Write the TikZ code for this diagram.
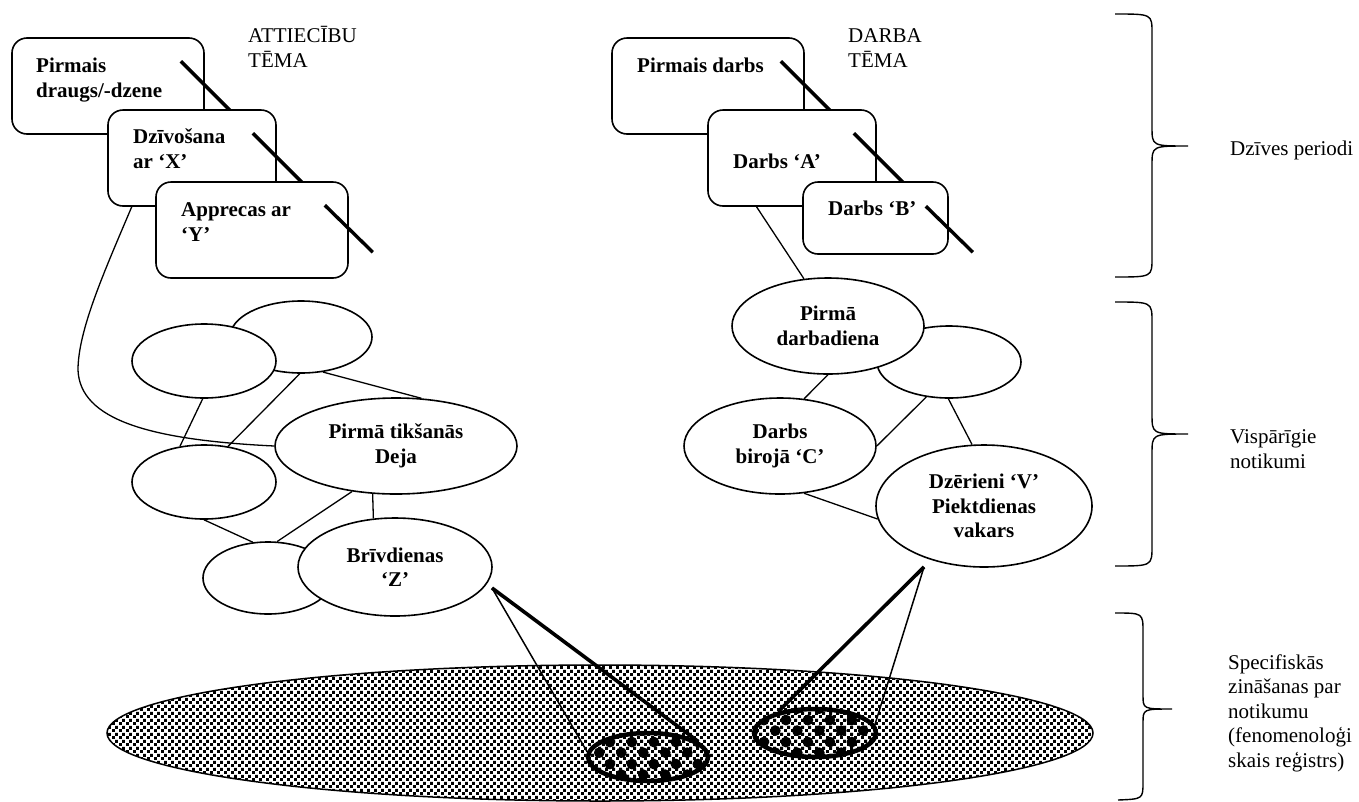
\documentclass[tikz,border=0pt]{standalone}
\usepackage{fontspec}
\setmainfont{Liberation Serif}
\usetikzlibrary{shapes.geometric,calc,patterns}
\pgfdeclarepatternformonly{ldots}{\pgfqpoint{0pt}{0pt}}{\pgfqpoint{7pt}{7pt}}{\pgfqpoint{7pt}{7pt}}{%
  \pgfpathrectangle{\pgfqpoint{0.15pt}{0.15pt}}{\pgfqpoint{3.2pt}{3.2pt}}%
  \pgfpathrectangle{\pgfqpoint{3.65pt}{3.65pt}}{\pgfqpoint{3.2pt}{3.2pt}}%
  \pgfusepath{fill}}
\pgfdeclarepatternformonly{spheres}{\pgfqpoint{0pt}{0pt}}{\pgfqpoint{22pt}{22pt}}{\pgfqpoint{22pt}{22pt}}{%
  \pgfpathcircle{\pgfqpoint{5.5pt}{5.5pt}}{5.6pt}%
  \pgfpathcircle{\pgfqpoint{16.5pt}{16.5pt}}{5.6pt}%
  \pgfusepath{fill}}
\tikzset{
  basefont/.style={font=\fontsize{21}{24.5}\selectfont},
  boldfont/.style={font=\fontsize{21}{24.5}\selectfont\bfseries},
  box/.style 2 args={draw, line width=1.6pt, rounded corners=15pt, fill=white,
    minimum width=#1pt, minimum height=#2pt, inner sep=0pt},
  ell/.style 2 args={draw, ellipse, line width=1.6pt, fill=white, inner sep=0pt,
    minimum width=#1pt, minimum height=#2pt, align=center, boldfont},
  slash/.style={line width=3.4pt},
  link/.style={line width=1.3pt},
  thickray/.style={line width=3.6pt},
  thinray/.style={line width=1.5pt},
  lbl/.style={anchor=base west, align=left, inner sep=0pt, basefont},
  blbl/.style={anchor=base west, align=left, inner sep=0pt, boldfont},
  brace/.style={line width=1.4pt},
  bigell/.style={draw, ellipse, line width=1.5pt, pattern=ldots, inner sep=0pt},
  smallell/.style 2 args={draw, ellipse, line width=4.5pt, inner sep=0pt,
    preaction={pattern=ldots}, pattern=spheres, minimum width=#1pt, minimum height=#2pt}
}
\begin{document}
\begin{tikzpicture}[x=1pt,y=1pt]
\useasboundingbox (0,0) rectangle (1359,-801);

% big ellipse (specific knowledge)
\node[bigell, minimum width=986pt, minimum height=136pt] (BE) at (600,-733) {};

% ---- left theme: boxes (multi-line labels are placed by their last baseline)
\node[box={192}{96}] (B1) at (108,-86) {};
\draw[slash] ($(B1.north east)+(-24,-24)$) -- ++(49,-49);
\node[box={168}{96}] (B2) at (192,-158) {};
\draw[slash] ($(B2.north east)+(-24,-24)$) -- ++(49,-49);
\node[box={192}{96}] (B3) at (252,-230) {};
\draw[slash] ($(B3.north east)+(-24,-24)$) -- ++(48,-47);
\node[blbl] (tB1) at (36,-97) {Pirmais\\draugs/-dzene};
\node[blbl] (tB2) at (133,-168) {Dzīvošana\\ar ‘X’};
\node[blbl] (tB3) at (181,-241) {Apprecas ar\\‘Y’};
\node[lbl] (h1) at (248,-67) {ATTIECĪBU\\TĒMA};

% ---- right theme: boxes
\node[box={192}{96}] (R1) at (708,-86) {};
\draw[slash] ($(R1.north east)+(-24,-24)$) -- ++(49,-49);
\node[box={168}{96}] (R2) at (792,-158) {};
\draw[slash] ($(R2.north east)+(-23,-24)$) -- ++(49,-49);
\node[box={145}{72}] (R3) at (875.5,-218) {};
\draw[slash] ($(R3.north east)+(-23,-25)$) -- ++(47,-46);
\node[blbl] (tR1) at (637,-72) {Pirmais darbs};
\node[blbl] (tR2) at (733,-168) {Darbs ‘A’};
\node[blbl] (tR3) at (828,-215) {Darbs ‘B’};
\node[lbl] (h2) at (848,-67) {DARBA\\TĒMA};

% ---- left general events
\node[ell={142}{72}] (E1) at (301,-337) {};
\node[ell={144}{74}] (E2) at (204,-361) {};
\node[ell={242}{96}] (E3) at (396,-446) {Pirmā tikšanās\\Deja};
\node[ell={144}{74}] (E4) at (204,-482) {};
\node[ell={130}{72}] (E5) at (268,-578) {};
\node[ell={194}{98}] (E6) at (395,-567) {Brīvdienas\\‘Z’};

\draw[link] (B2.-141.3) .. controls (105,-270) and (78,-330) .. (78,-370)
  .. controls (80,-420) and (150,-440) .. (E3.west);
\draw[link] (E2.-92) -- (E4.124);
\draw[link] (E1.-92) -- (E4.56);
\draw[link] (E1.-58) -- (E3.62);
\draw[link] (E4.-90) -- (E5.113);
\draw[link] (E3.-134) -- (E5.76);
\draw[link] (E3.-116) -- (E6.114);

% ---- right general events
\node[ell={144}{72}] (F2) at (949,-362) {};
\node[ell={192}{96}] (F1) at (828,-326) {Pirmā\\darbadiena};
\node[ell={192}{96}] (F3) at (780,-446) {Darbs\\birojā ‘C’};
\node[ell={216}{122}] (F4) at (984,-506) {Dzērieni ‘V’\\Piektdienas\\vakars};

\draw[link] (R2.-126.1) -- (F1.117.5);
\draw[link] (F1.-90) -- (F3.63.4);
\draw[link] (F2.-123.7) -- (F3.0);
\draw[link] (F2.-91.6) -- (F4.101.3);
\draw[link] (F3.-63.4) -- (F4.-173.6);

% ---- specific event details
\node[smallell={120}{48}] (SL) at (648,-757) {};
\node[smallell={122}{48}] (SR) at (815,-733) {};
\coordinate (zL) at ($(E6.center)+(97,-21)$);
\coordinate (vR) at ($(F4.center)+(-60,-61)$);
\draw[thinray] (zL) -- (SL.175);
\draw[thickray] (zL) -- (SL.17);
\draw[thickray] (vR) -- (SR.150);
\draw[thinray] (vR) -- (SR.8);

% ---- braces and level labels
\draw[brace] (1115,-14) .. controls (1152,-14) .. (1152,-33) -- (1152,-127)
  .. controls (1152,-146) .. (1188,-146) .. controls (1152,-146) .. (1152,-165)
  -- (1152,-258) .. controls (1152,-277) .. (1115,-277);
\draw[brace] (1115,-302) .. controls (1152,-302) .. (1152,-322) -- (1152,-414)
  .. controls (1152,-434) .. (1188,-434) .. controls (1152,-434) .. (1152,-454)
  -- (1152,-546) .. controls (1152,-566) .. (1115,-566);
\draw[brace] (1115,-613) .. controls (1143,-613) .. (1143,-632) -- (1143,-695)
  .. controls (1143,-709) .. (1172,-709) .. controls (1143,-709) .. (1143,-723)
  -- (1143,-782) .. controls (1143,-799) .. (1118,-800);
\node[lbl] (L1) at (1230,-155) {Dzīves periodi};
\node[lbl] (L2) at (1230,-468) {Vispārīgie\\notikumi};
\node[lbl] (L3) at (1228,-767) {Specifiskās\\zināšanas par\\notikumu\\(fenomenoloģi\\skais reģistrs)};
\end{tikzpicture}
\end{document}
